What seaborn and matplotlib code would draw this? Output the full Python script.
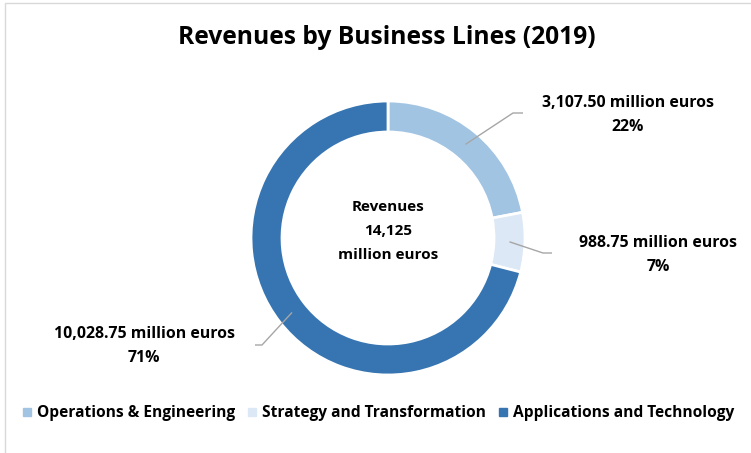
import matplotlib
matplotlib.use("Agg")
import matplotlib.pyplot as plt
import seaborn as sns
import numpy as np

sns.set_theme(style="white")
plt.rcParams["font.family"] = ["Open Sans", "DejaVu Sans"]
plt.rcParams["text.color"] = "black"

# Business line revenues, 2019 (million euros)
business_lines = ["Operations & Engineering", "Strategy and Transformation",
                  "Applications and Technology"]
revenues = [3107.50, 988.75, 10028.75]
percent_labels = ["22%", "7%", "71%"]
value_labels = ["3,107.50 million euros", "988.75 million euros",
                "10,028.75 million euros"]
total_label = "14,125"
colors = ["#a2c4e3", "#dce8f5", "#3675b1"]

W, H = 751, 453
fig = plt.figure(figsize=(W / 100, H / 100), dpi=100)
ax = fig.add_axes([0, 0, 1, 1])

# pixel-style coordinates measured from the top edge
def Y(y):
    return H - y

cx, cy, r_out = 388, 238, 137
ring = 31
wedges, _ = ax.pie(revenues, colors=colors, startangle=90, counterclock=False,
                   center=(cx, Y(cy)), radius=r_out,
                   wedgeprops=dict(width=ring, edgecolor="white", linewidth=2))
ax.set_xlim(0, W)
ax.set_ylim(0, H)
ax.set_aspect("equal")
ax.axis("off")

# frame edge on the left and top
ax.plot([5, 5, W + 5], [-5, Y(3), Y(3)], color="#d9d9d9", lw=1)

ax.text(387, Y(38), "Revenues by Business Lines (2019)", ha="center", va="center",
        fontsize=17.7, fontweight="bold", color="black")

ax.text(cx, Y(231), f"Revenues\n{total_label}\nmillion euros", ha="center",
        va="center", fontsize=11, fontweight="bold", color="black",
        linespacing=1.9)

# leader line elbows and label centres
elbows = [((513, 113), (523, 113)), ((543, 253), (552, 253)),
          ((262, 345), (255, 345))]
label_pos = [(628, 115), (658, 255), (144, 346)]
r_mid = r_out - ring / 2
for w, (e1, e2), (lx, ly), vl, pl in zip(wedges, elbows, label_pos,
                                         value_labels, percent_labels):
    ang = np.deg2rad((w.theta1 + w.theta2) / 2)
    ax_, ay_ = cx + r_mid * np.cos(ang), Y(cy) + r_mid * np.sin(ang)
    ax.plot([ax_, e1[0], e2[0]], [ay_, Y(e1[1]), Y(e2[1])],
            color="#a6a6a6", lw=1, solid_capstyle="butt")
    ax.text(lx, Y(ly), f"{vl}\n{pl}", ha="center", va="center",
            fontsize=11.4, fontweight="bold", color="black", linespacing=1.6)

handles = [plt.Line2D([], [], marker="s", ls="", color=c, markersize=6)
           for c in colors]
fig.legend(handles, business_lines, loc="center", bbox_to_anchor=(378 / W, 1 - 413 / H),
           ncol=3, frameon=False, handlelength=0.7, labelcolor="black",
           handletextpad=0.3, columnspacing=0.75,
           prop=dict(weight="bold", size=11.2))

fig.savefig("out.png", dpi=100, facecolor="white")
